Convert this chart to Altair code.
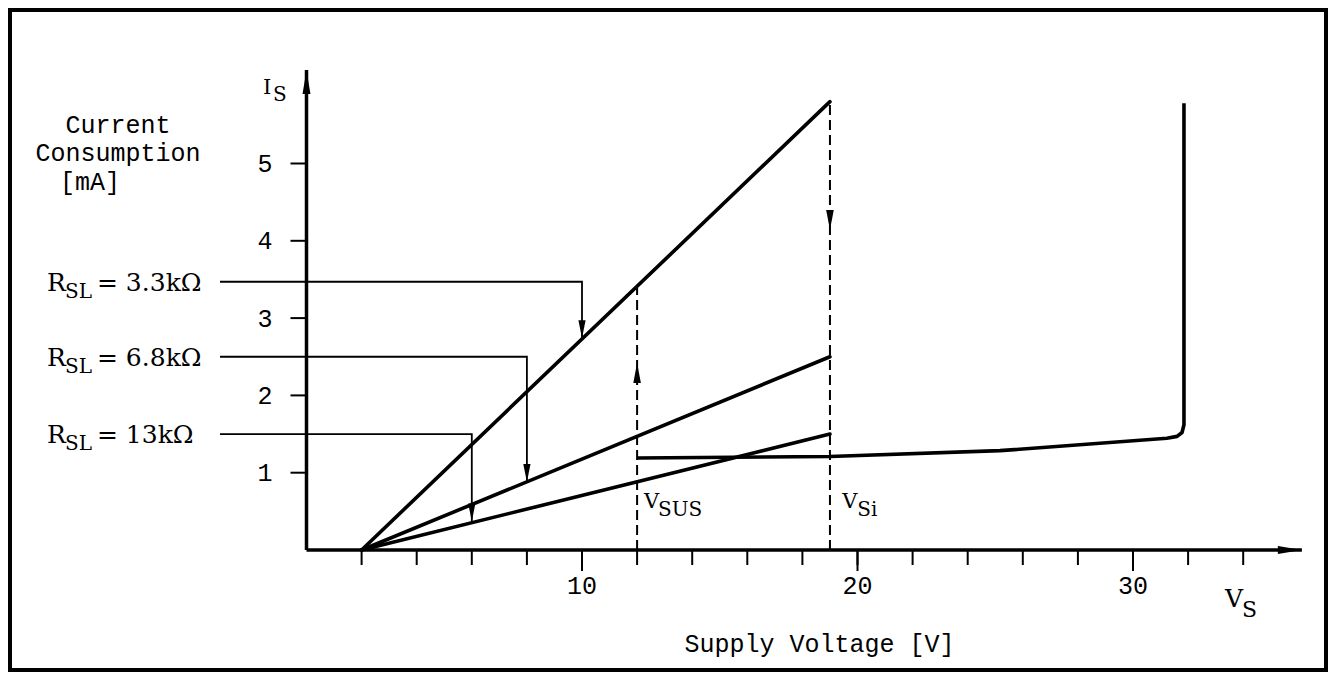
import altair as alt
import pandas as pd

# ---------------- data ----------------
rsl_names = ["3.3kΩ", "6.8kΩ", "13kΩ"]
rsl_end_y = [5.8, 2.5, 1.5]          # current at 19 V for each load line
line_start_x = 2.0
line_end_x = 19.0

curve_x = [12.0, 19.0, 25.17, 31.23, 31.6, 31.78, 31.85, 31.85]
curve_y = [1.19, 1.21, 1.285, 1.445, 1.47, 1.52, 1.62, 5.78]

label_y = [3.47, 2.50, 1.50]          # leader line heights
label_drop_x = [10, 8, 6]             # where leader drops to its line
label_tip_y = [2.74, 0.88, 0.37]      # arrow tips on the lines
label_left_x = -3.14                  # leader start

dash_x = [12, 19]
dash_top = [3.39, 5.8]
dash_arrow_y = [2.42, 4.14]

x_minor = list(range(2, 36, 2))
x_major = [10, 20, 30]
y_ticks = [1, 2, 3, 4, 5]
x_axis_end = 36.13
y_axis_end = 6.21

# ---------------- geometry of the drawing ----------------
PXX, PXY = 27.55, 77.3
W, H = 1316, 660
X0, Y0 = 296.5, 540
xs = alt.Scale(domain=[-X0 / PXX, (W - X0) / PXX], nice=False, zero=False)
ys = alt.Scale(domain=[-(H - Y0) / PXY, Y0 / PXY], nice=False, zero=False)


def X(f):
    return alt.X(f, type="quantitative", scale=xs, axis=None)


def Y(f):
    return alt.Y(f, type="quantitative", scale=ys, axis=None)


MONO = "Liberation Mono"
SERIF = "DejaVu Serif"
MW = "normal"

# axes
axes_df = pd.DataFrame({"x": [0, 0], "y": [0, 0], "x2": [x_axis_end, 0], "y2": [0, y_axis_end]})
axes = alt.Chart(axes_df).mark_rule(color="black", strokeWidth=3.5).encode(
    x=X("x"), y=Y("y"), x2="x2", y2="y2")

arrow_x = alt.Chart(pd.DataFrame({"x": [x_axis_end], "y": [0]})).mark_point(
    shape="M-2,-0.33L0,0L-2,0.33Z", size=576, filled=True, color="black", opacity=1, strokeWidth=0
).encode(x=X("x"), y=Y("y"))
arrow_y = alt.Chart(pd.DataFrame({"x": [0], "y": [y_axis_end]})).mark_point(
    shape="M-0.33,2L0,0L0.33,2Z", size=576, filled=True, color="black", opacity=1, strokeWidth=0
).encode(x=X("x"), y=Y("y"))

# ticks
minor_df = pd.DataFrame({"x": x_minor, "y": [0] * len(x_minor)})
minor = alt.Chart(minor_df).mark_rule(color="black", strokeWidth=2).transform_calculate(
    y2=f"-15/{PXY}").encode(x=X("x"), y=Y("y"), y2="y2:Q")
major_df = pd.DataFrame({"x": x_major, "y": [0] * len(x_major)})
major = alt.Chart(major_df).mark_rule(color="black", strokeWidth=2).transform_calculate(
    y2=f"-21/{PXY}").encode(x=X("x"), y=Y("y"), y2="y2:Q")
major_lab = alt.Chart(major_df).mark_text(
    font=MONO, fontSize=25, fontWeight=MW, align="center", baseline="alphabetic", dy=44, color="black"
).encode(x=X("x"), y=Y("y"), text=alt.Text("x:N"))

yt_df = pd.DataFrame({"y": y_ticks, "x": [0] * len(y_ticks)})
yt = alt.Chart(yt_df).mark_rule(color="black", strokeWidth=2).transform_calculate(
    x2=f"-16/{PXX}").encode(x=X("x"), x2="x2:Q", y=Y("y"))
yt_lab = alt.Chart(yt_df).mark_text(
    font=MONO, fontSize=25, fontWeight=MW, align="right", baseline="alphabetic", dx=-34, dy=8.5,
    color="black"
).encode(x=X("x"), y=Y("y"), text=alt.Text("y:N"))

# load lines
ll_df = pd.DataFrame({"name": rsl_names, "x": [line_start_x] * 3, "y": [0] * 3,
                      "x2": [line_end_x] * 3, "y2": rsl_end_y})
load_lines = alt.Chart(ll_df).mark_rule(color="black", strokeWidth=3.6, strokeCap="round").encode(
    x=X("x"), y=Y("y"), x2="x2", y2="y2")

# characteristic curve
cv_df = pd.DataFrame({"x": curve_x, "y": curve_y, "o": list(range(len(curve_x)))})
curve = alt.Chart(cv_df).mark_line(color="black", strokeWidth=3.6, strokeJoin="round",
                                   strokeCap="butt").encode(
    x=X("x"), y=Y("y"), order="o:Q")

# dashed verticals
dash_df = pd.DataFrame({"x": dash_x, "y": [0, 0], "y2": dash_top})
dashes = alt.Chart(dash_df).mark_rule(color="black", strokeWidth=2, strokeDash=[10, 5]).encode(
    x=X("x"), y=Y("y"), y2="y2")
up_arrow = alt.Chart(pd.DataFrame({"x": [dash_x[0]], "y": [dash_arrow_y[0]]})).mark_point(
    shape="M-0.38,2L0,0L0.38,2Z", size=400, filled=True, color="black", opacity=1, strokeWidth=0
).encode(x=X("x"), y=Y("y"))
down_arrow = alt.Chart(pd.DataFrame({"x": [dash_x[1]], "y": [dash_arrow_y[1]]})).mark_point(
    shape="M-0.38,-2L0,0L0.38,-2Z", size=400, filled=True, color="black", opacity=1, strokeWidth=0
).encode(x=X("x"), y=Y("y"))

# leader lines
rows = []
for n, ly, dx_, ty in zip(rsl_names, label_y, label_drop_x, label_tip_y):
    rows += [{"name": n, "o": 0, "x": label_left_x, "y": ly},
             {"name": n, "o": 1, "x": dx_, "y": ly},
             {"name": n, "o": 2, "x": dx_, "y": ty}]
lead_df = pd.DataFrame(rows)
leaders = alt.Chart(lead_df).mark_line(color="black", strokeWidth=1.8, strokeJoin="miter").encode(
    x=X("x"), y=Y("y"), detail="name:N", order="o:Q")
tips_df = pd.DataFrame({"x": label_drop_x, "y": label_tip_y})
tips = alt.Chart(tips_df).mark_point(
    shape="M-0.4,-2L0,0L0.4,-2Z", size=324, filled=True, color="black", opacity=1, strokeWidth=0
).encode(x=X("x"), y=Y("y"))

# R_SL labels
lab_df = pd.DataFrame({"x": [-9.42] * 3, "y": label_y, "v": ["= " + n for n in rsl_names],
                       "R": ["R"] * 3, "s": ["SL"] * 3})
lab_R = alt.Chart(lab_df).mark_text(font=SERIF, fontSize=25, align="left", baseline="alphabetic",
                                    dy=9, color="black").encode(x=X("x"), y=Y("y"), text="R:N")
lab_S = alt.Chart(lab_df).mark_text(font=SERIF, fontSize=20, align="left", baseline="alphabetic",
                                    dx=18, dy=16, color="black").encode(x=X("x"), y=Y("y"), text="s:N")
lab_V = alt.Chart(lab_df).mark_text(font=SERIF, fontSize=25, align="left", baseline="alphabetic",
                                    dx=50, dy=9, color="black").encode(x=X("x"), y=Y("y"), text="v:N")

# symbol labels (main letter + subscript)
sym_main = ["V", "V", "V", "I"]
sym_sub = ["SUS", "Si", "S", "S"]
sym_x = [12.25, 19.45, 33.34, -1.58]
sym_y = [0.543, 0.543, -0.737, 5.90]
sym_df = pd.DataFrame({"x": sym_x, "y": sym_y, "m": sym_main, "s": sym_sub})


def sym_layer(i, msize, ssize, sdx, sdy):
    d = sym_df.iloc[[i]]
    a = alt.Chart(d).mark_text(font=SERIF, fontSize=msize, align="left", baseline="alphabetic",
                               color="black").encode(x=X("x"), y=Y("y"), text="m:N")
    b = alt.Chart(d).mark_text(font=SERIF, fontSize=ssize, align="left", baseline="alphabetic",
                               dx=sdx, dy=sdy, color="black").encode(x=X("x"), y=Y("y"), text="s:N")
    return a + b


syms = sym_layer(0, 21, 20, 14, 8) + sym_layer(1, 21, 20, 15, 8) + \
    sym_layer(2, 25, 22, 17, 10) + sym_layer(3, 21, 20, 10, 7)

# axis titles
title_lines = ["Current", "Consumption"]
title_df = pd.DataFrame({"t": [title_lines], "x": [-6.84], "y": [5.39]})
titles = alt.Chart(title_df).mark_text(font=MONO, fontSize=25, fontWeight=MW, align="center",
                                       baseline="alphabetic", lineHeight=28,
                                       color="black").encode(x=X("x"), y=Y("y"), text="t")
unit_df = pd.DataFrame({"t": ["[mA]"], "x": [-8.95], "y": [4.66]})
unit = alt.Chart(unit_df).mark_text(font=MONO, fontSize=25, fontWeight=MW, align="left",
                                    baseline="alphabetic",
                                    color="black").encode(x=X("x"), y=Y("y"), text="t:N")
xt_df = pd.DataFrame({"t": ["Supply Voltage [V]"], "x": [18.62], "y": [-1.32]})
xtitle = alt.Chart(xt_df).mark_text(font=MONO, fontSize=25, fontWeight=MW, align="center",
                                    baseline="alphabetic",
                                    color="black").encode(x=X("x"), y=Y("y"), text="t:N")

chart = alt.layer(
    axes, minor, major, yt, dashes, load_lines, curve, leaders, tips, up_arrow, down_arrow,
    arrow_x, arrow_y, major_lab, yt_lab, lab_R, lab_S, lab_V, syms, titles, unit, xtitle
).properties(
    width=W, height=H, padding={"left": 2, "top": 2, "right": 2, "bottom": 2},
    autosize=alt.AutoSizeParams(type="none"), background="white"
).configure_view(stroke="black", strokeWidth=4, fill="white")

chart.save("out.html", embed_options={"renderer": "svg", "actions": False})
